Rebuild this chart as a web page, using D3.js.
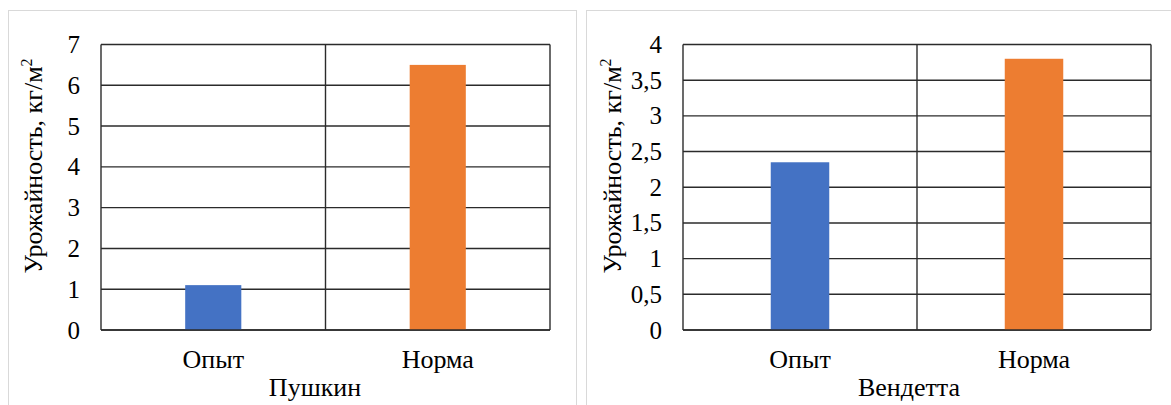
<!DOCTYPE html>
<html>
<head>
<meta charset="utf-8">
<script src="https://cdn.jsdelivr.net/npm/d3@7"></script>
<style>
  html, body { margin: 0; padding: 0; background: #fff; }
  svg { display: block; }
  .serif { font-family: "Liberation Serif", serif; }
</style>
</head>
<body>
<svg id="chart" width="1171" height="405" font-family="Liberation Serif"></svg>
<script>
// Categories shared by both charts
const categories = ["Опыт", "Норма"];
const barColors = ["#4472C4", "#ED7D31"];

// Yield, kg/m², per variety
const pushkinValues = [1.1, 6.5];
const vendettaValues = [2.35, 3.8];

// Value axis ticks
const pushkinTicks = [0, 1, 2, 3, 4, 5, 6, 7];
const vendettaTicks = [0, 0.5, 1, 1.5, 2, 2.5, 3, 3.5, 4];

const yTitle = "Урожайность, кг/м";
const varietyNames = ["Пушкин", "Вендетта"];

const ru = d3.formatLocale({ decimal: ",", thousands: " ", grouping: [3], currency: ["", " ₽"] });
const fmt = ru.format("~g");

const svg = d3.select("#chart");
const FONT = "Liberation Serif";
const FS = 26;     // labels and titles
const FS_TICK = 25;

const panels = [
  { frame: [8, 10, 568, 420], plot: [101, 44.5, 550, 330], values: pushkinValues, ticks: pushkinTicks,
    name: varietyNames[0], nameX: 315, titleX: 42 },
  { frame: [586, 10, 620, 420], plot: [683, 44.5, 1151, 330], values: vendettaValues, ticks: vendettaTicks,
    name: varietyNames[1], nameX: 909, titleX: 621 }
];

panels.forEach(p => {
  const [x0, y0, x1, y1] = p.plot;

  // chart frame
  svg.append("rect")
    .attr("x", p.frame[0] + 0.5).attr("y", p.frame[1] + 0.5)
    .attr("width", p.frame[2]).attr("height", p.frame[3])
    .attr("fill", "#fff").attr("stroke", "#d9d9d9").attr("stroke-width", 1);

  const x = d3.scaleBand().domain(categories).range([x0, x1]);
  const y = d3.scaleLinear().domain([0, d3.max(p.ticks)]).range([y1, y0]);

  const g = svg.append("g");

  // horizontal gridlines
  g.selectAll("line.h").data(p.ticks).join("line")
    .attr("x1", x0).attr("x2", x1)
    .attr("y1", d => y(d)).attr("y2", d => y(d))
    .attr("stroke", "#2b2b2b").attr("stroke-width", 1.4);

  // vertical gridlines at category boundaries
  const vlines = [x0, ...categories.slice(1).map(c => x(c)), x1];
  g.selectAll("line.v").data(vlines).join("line")
    .attr("x1", d => d).attr("x2", d => d)
    .attr("y1", y0).attr("y2", y1)
    .attr("stroke", "#2b2b2b").attr("stroke-width", 1.4);

  // bars: gap width 300%
  const bw = x.bandwidth() / 4;
  g.selectAll("rect.bar").data(p.values).join("rect")
    .attr("x", (d, i) => x(categories[i]) + (x.bandwidth() - bw) / 2)
    .attr("width", bw)
    .attr("y", d => y(d))
    .attr("height", d => y(0) - y(d))
    .attr("fill", (d, i) => barColors[i]);

  // bottom axis line over bars
  g.append("line")
    .attr("x1", x0).attr("x2", x1).attr("y1", y(0)).attr("y2", y(0))
    .attr("stroke", "#2b2b2b").attr("stroke-width", 1.4);

  // value axis labels
  const yAxis = d3.axisLeft(y).tickValues(p.ticks).tickFormat(fmt).tickSize(0).tickPadding(21);
  const ya = svg.append("g").attr("transform", `translate(${x0},0)`).call(yAxis)
    .attr("font-family", FONT).attr("font-size", FS_TICK);
  ya.select(".domain").remove();
  ya.selectAll("text").attr("class", "serif").attr("font-family", FONT).attr("font-size", FS_TICK).attr("fill", "#000");

  // category labels
  const xAxis = d3.axisBottom(x).tickSize(0).tickPadding(20);
  const xa = svg.append("g").attr("transform", `translate(0,${y1})`).call(xAxis)
    .attr("font-family", FONT).attr("font-size", FS);
  xa.select(".domain").remove();
  xa.selectAll("text").attr("class", "serif").attr("font-family", FONT).attr("font-size", FS).attr("fill", "#000");

  // variety title
  svg.append("text")
    .attr("class", "serif").attr("font-family", FONT)
    .attr("x", p.nameX).attr("y", 396)
    .attr("text-anchor", "middle").attr("font-size", FS).attr("fill", "#000")
    .text(p.name);

  // value axis title with superscript
  const t = svg.append("text")
    .attr("class", "serif").attr("font-family", FONT)
    .attr("transform", `translate(${p.titleX},166) rotate(-90)`)
    .attr("text-anchor", "middle").attr("font-size", FS).attr("fill", "#000");
  t.append("tspan").text(yTitle);
  t.append("tspan").attr("font-size", 16).attr("dy", -10).text("2");
});
</script>
</body>
</html>
